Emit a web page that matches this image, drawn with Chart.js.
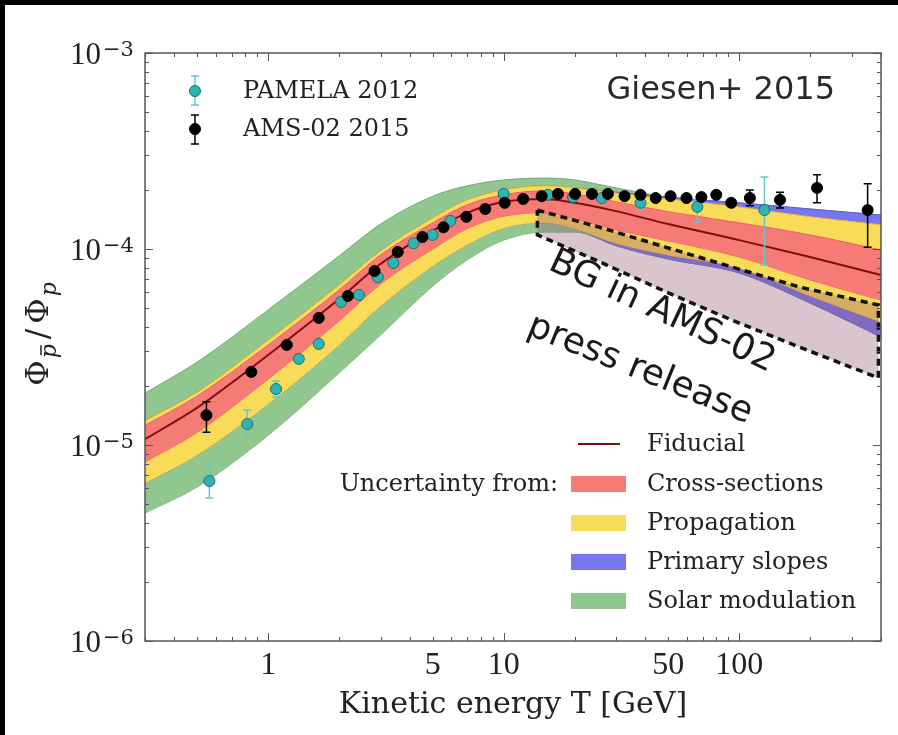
<!DOCTYPE html>
<html lang="en">
<head>
  <meta charset="UTF-8">
  <title>Antiproton / proton ratio</title>
  <script src="https://cdn.jsdelivr.net/npm/chart.js"></script>
  <style>
    html, body { margin: 0; padding: 0; background: #fff; overflow: hidden; }
    #wrap { width: 898px; height: 735px; }
    #ratioChart { display: block; }
  </style>
</head>
<body>
<div id="wrap"><canvas id="ratioChart" width="898" height="735"></canvas></div>

<script>
  // Model bands at these kinetic energies [GeV]
  const modelEnergy = [0.3, 0.5, 1, 2, 3, 5, 7, 10, 15, 20, 30, 50, 100, 200, 400];
  const fiducial = [1.07e-5, 1.55e-5, 2.88e-5, 5.56e-5, 8.38e-5, 1.24e-4, 1.53e-4, 1.74e-4, 1.80e-4, 1.72e-4, 1.56e-4, 1.34e-4, 1.11e-4, 9.10e-5, 7.37e-5];
  const crossUp  = [1.26e-5, 1.78e-5, 3.24e-5, 6.18e-5, 9.32e-5, 1.36e-4, 1.68e-4, 1.89e-4, 1.98e-4, 1.91e-4, 1.74e-4, 1.55e-4, 1.36e-4, 1.18e-4, 9.88e-5];
  const crossLo  = [8.19e-6, 1.16e-5, 2.17e-5, 4.29e-5, 6.63e-5, 1.00e-4, 1.27e-4, 1.47e-4, 1.53e-4, 1.42e-4, 1.25e-4, 1.10e-4, 9.10e-5, 6.95e-5, 5.49e-5];
  const propUp   = [1.33e-5, 1.86e-5, 3.43e-5, 6.55e-5, 9.77e-5, 1.44e-4, 1.78e-4, 2.00e-4, 2.10e-4, 2.05e-4, 1.93e-4, 1.80e-4, 1.64e-4, 1.46e-4, 1.33e-4];
  const propLo   = [6.40e-6, 8.89e-6, 1.62e-5, 3.24e-5, 5.12e-5, 8.19e-5, 1.05e-4, 1.28e-4, 1.36e-4, 1.27e-4, 1.07e-4, 9.32e-5, 8.00e-5, 5.76e-5, 4.24e-5];
  const slopeUp  = [1.33e-5, 1.86e-5, 3.43e-5, 6.55e-5, 9.77e-5, 1.44e-4, 1.78e-4, 2.00e-4, 2.10e-4, 2.05e-4, 1.95e-4, 1.84e-4, 1.72e-4, 1.60e-4, 1.49e-4];
  const slopeLo  = [6.40e-6, 8.89e-6, 1.62e-5, 3.24e-5, 5.12e-5, 8.19e-5, 1.05e-4, 1.28e-4, 1.36e-4, 1.27e-4, 1.04e-4, 8.89e-5, 7.54e-5, 5.30e-5, 3.56e-5];
  const solarUp  = [1.84e-5, 2.65e-5, 4.89e-5, 9.21e-5, 1.34e-4, 1.86e-4, 2.10e-4, 2.25e-4, 2.30e-4, 2.25e-4, 2.05e-4, 1.84e-4, 1.72e-4, 1.60e-4, 1.49e-4];
  const solarLo  = [4.50e-6, 6.11e-6, 1.12e-5, 2.33e-5, 3.64e-5, 6.47e-5, 8.79e-5, 1.11e-4, 1.22e-4, 1.22e-4, 1.04e-4, 8.89e-5, 7.54e-5, 5.30e-5, 3.56e-5];

  // "BG in AMS-02 press release" region, outline as a closed polygon
  const bgEnergy = [13.9, 25.6, 49, 93, 180, 390, 390, 180, 93, 49, 25.6, 13.9, 13.9];
  const bgRatio  = [1.58e-4, 1.29e-4, 1.02e-4, 8.10e-5, 6.40e-5, 5.18e-5, 2.20e-5, 3.16e-5, 4.34e-5, 6.04e-5, 8.59e-5, 1.18e-4, 1.58e-4];

  // AMS-02 2015
  const amsEnergy = [0.547, 0.848, 1.20, 1.64, 2.18, 2.83, 3.55, 4.52, 5.55, 6.94, 8.35, 10.1, 12.1, 14.5, 17.0, 20.1, 23.7, 27.7, 32.6, 38.1, 44.2, 51.1, 59.7, 69.1, 79.9, 92.5, 111, 149, 214, 351];
  const amsRatio  = [1.42e-5, 2.36e-5, 3.24e-5, 4.45e-5, 5.76e-5, 7.72e-5, 9.66e-5, 1.15e-4, 1.29e-4, 1.46e-4, 1.60e-4, 1.72e-4, 1.80e-4, 1.86e-4, 1.91e-4, 1.91e-4, 1.91e-4, 1.91e-4, 1.86e-4, 1.89e-4, 1.82e-4, 1.86e-4, 1.82e-4, 1.84e-4, 1.89e-4, 1.72e-4, 1.82e-4, 1.78e-4, 2.05e-4, 1.58e-4];
  const amsLow    = [1.16e-5, null, null, null, null, null, null, null, null, null, null, null, null, null, null, null, null, null, null, null, null, null, null, null, null, null, 1.66e-4, 1.62e-4, 1.72e-4, 1.02e-4];
  const amsHigh   = [1.66e-5, null, null, null, null, null, null, null, null, null, null, null, null, null, null, null, null, null, null, null, null, null, null, null, null, null, 2.00e-4, 1.95e-4, 2.39e-4, 2.15e-4];

  // PAMELA 2012
  const pamEnergy = [0.563, 0.815, 1.08, 1.35, 1.64, 2.04, 2.43, 2.92, 3.40, 4.14, 4.99, 5.94, 10.0, 15.4, 19.7, 26.1, 38.1, 66.4, 128];
  const pamRatio  = [6.55e-6, 1.28e-5, 1.93e-5, 2.75e-5, 3.28e-5, 5.37e-5, 5.83e-5, 7.19e-5, 8.49e-5, 1.07e-4, 1.18e-4, 1.39e-4, 1.91e-4, 1.89e-4, 1.84e-4, 1.82e-4, 1.72e-4, 1.64e-4, 1.58e-4];
  const pamLow    = [5.37e-6, 1.12e-5, 1.76e-5, null, null, null, null, null, null, null, null, null, null, null, null, null, 1.60e-4, 1.37e-4, 8.28e-5];
  const pamHigh   = [7.72e-6, 1.51e-5, 2.12e-5, null, null, null, null, null, null, null, null, null, null, null, null, null, 1.84e-4, 1.78e-4, 2.33e-4];

  const xTickValues = [1, 5, 10, 50, 100];
  const yDecades = [-6, -5, -4, -3];

  const COLORS = {
    cross: '#f67a76', prop: '#f8dc58', slope: '#7676ee', solar: '#8fc78f',
    fid: '#7d0f0f', pam: '#2fb4b4', pamEdge: '#17706f', pamBar: '#62c7cf', ink: '#222'
  };

  const pts = (xs, ys) => xs.map((x, i) => ({ x: x, y: ys[i] }));

  function band(label, upper, lower, fillColor, edgeColor) {
    const common = { borderColor: edgeColor, borderWidth: 1, pointRadius: 0, cubicInterpolationMode: 'monotone' };
    return [
      Object.assign({ label: label, data: pts(modelEnergy, upper), fill: '+1', backgroundColor: fillColor }, common),
      Object.assign({ label: label + ' lower', data: pts(modelEnergy, lower), fill: false }, common)
    ];
  }

  // error bars drawn just before their points
  const errorBars = {
    id: 'errorBars',
    beforeDatasetDraw(chart, args) {
      const ds = chart.data.datasets[args.index];
      if (!ds.errLo) return;
      const { ctx, scales: { x, y } } = chart;
      ctx.save();
      ctx.strokeStyle = ds.errColor;
      ctx.lineWidth = 1.5;
      ds.data.forEach((p, i) => {
        if (ds.errLo[i] == null) return;
        const px = x.getPixelForValue(p.x);
        const y0 = y.getPixelForValue(ds.errLo[i]);
        const y1 = y.getPixelForValue(ds.errHi[i]);
        ctx.beginPath();
        ctx.moveTo(px, y0); ctx.lineTo(px, y1);
        ctx.moveTo(px - 4, y0); ctx.lineTo(px + 4, y0);
        ctx.moveTo(px - 4, y1); ctx.lineTo(px + 4, y1);
        ctx.stroke();
      });
      ctx.restore();
    }
  };

  function marker(ctx, cx, cy, fill, edge) {
    ctx.beginPath();
    ctx.arc(cx, cy, 5.5, 0, Math.PI * 2);
    ctx.fillStyle = fill; ctx.fill();
    ctx.lineWidth = 1; ctx.strokeStyle = edge; ctx.stroke();
  }

  function errSample(ctx, cx, y0, y1, color) {
    ctx.beginPath();
    ctx.strokeStyle = color; ctx.lineWidth = 1.5;
    ctx.moveTo(cx, y0); ctx.lineTo(cx, y1);
    ctx.moveTo(cx - 4, y0); ctx.lineTo(cx + 4, y0);
    ctx.moveTo(cx - 4, y1); ctx.lineTo(cx + 4, y1);
    ctx.stroke();
  }

  const decorations = {
    id: 'decorations',
    beforeDraw(chart) {
      const { ctx, width, height } = chart;
      ctx.save();
      ctx.fillStyle = '#000';
      ctx.fillRect(0, 0, width, height);
      ctx.fillStyle = '#fff';
      ctx.fillRect(5, 5, width - 5, height - 5);
      ctx.restore();
    },
    afterDraw(chart) {
      const { ctx, chartArea: a, scales: { x, y } } = chart;
      ctx.save();

      // frame
      ctx.strokeStyle = '#555';
      ctx.lineWidth = 1.5;
      ctx.strokeRect(a.left, a.top, a.right - a.left, a.bottom - a.top);

      // inward ticks on all four sides
      ctx.lineWidth = 1;
      for (let d = -1; d <= 2; d++) {
        for (let m = 1; m <= 9; m++) {
          const v = m * Math.pow(10, d);
          if (v < 0.3 || v > 400) continue;
          const px = Math.round(x.getPixelForValue(v)) + 0.5;
          const len = m === 1 ? 8 : 4;
          ctx.beginPath();
          ctx.moveTo(px, a.bottom); ctx.lineTo(px, a.bottom - len);
          ctx.moveTo(px, a.top); ctx.lineTo(px, a.top + len);
          ctx.stroke();
        }
      }
      for (let d = -6; d <= -3; d++) {
        for (let m = 1; m <= 9; m++) {
          if (d === -3 && m > 1) break;
          const py = Math.round(y.getPixelForValue(m * Math.pow(10, d))) + 0.5;
          const len = m === 1 ? 8 : 4;
          ctx.beginPath();
          ctx.moveTo(a.left, py); ctx.lineTo(a.left + len, py);
          ctx.moveTo(a.right, py); ctx.lineTo(a.right - len, py);
          ctx.stroke();
        }
      }

      // y tick labels 10^n
      ctx.fillStyle = COLORS.ink;
      yDecades.forEach(e => {
        const py = y.getPixelForValue(Math.pow(10, e));
        ctx.font = '31px "Liberation Serif"';
        ctx.textAlign = 'right';
        ctx.textBaseline = 'alphabetic';
        ctx.fillText('10', 101, py + 11);
        ctx.font = '21px "DejaVu Serif"';
        ctx.textAlign = 'left';
        ctx.fillText('\u2212' + (-e), 103, py + 3);
      });

      // y axis title: Phi_pbar / Phi_p
      ctx.save();
      ctx.translate(48, 333);
      ctx.rotate(-Math.PI / 2);
      ctx.textAlign = 'left';
      ctx.textBaseline = 'alphabetic';
      const big = '31px "DejaVu Serif"', small = 'italic 22px "DejaVu Serif"';
      const parts = [
        { f: big, t: '\u03A6', dy: 0 },
        { f: small, t: 'p', dy: 8, bar: true },
        { f: big, t: '/', dy: 0, pad: 3 },
        { f: big, t: '\u03A6', dy: 0 },
        { f: small, t: 'p', dy: 8 }
      ];
      let total = 0;
      parts.forEach(p => { ctx.font = p.f; p.w = ctx.measureText(p.t).width + (p.pad || 0) * 2; total += p.w + 2; });
      let cx = -total / 2;
      parts.forEach(p => {
        ctx.font = p.f;
        ctx.fillText(p.t, cx + (p.pad || 0), p.dy);
        if (p.bar) {
          ctx.beginPath();
          ctx.strokeStyle = COLORS.ink; ctx.lineWidth = 1.5;
          ctx.moveTo(cx + 3, p.dy - 15); ctx.lineTo(cx + p.w - 1, p.dy - 15);
          ctx.stroke();
        }
        cx += p.w + 2;
      });
      ctx.restore();

      // data legend, top left
      errSample(ctx, 195, 76, 105, COLORS.pamBar);
      marker(ctx, 195, 91, COLORS.pam, COLORS.pamEdge);
      errSample(ctx, 195, 115, 144, '#000');
      marker(ctx, 195, 129, '#000', '#000');
      ctx.fillStyle = COLORS.ink;
      ctx.font = '24px "DejaVu Serif"';
      ctx.textAlign = 'left';
      ctx.textBaseline = 'middle';
      ctx.fillText('PAMELA 2012', 243, 92);
      ctx.fillText('AMS-02 2015', 243, 130);

      // model legend, lower right
      ctx.beginPath();
      ctx.strokeStyle = COLORS.fid; ctx.lineWidth = 2;
      ctx.moveTo(578, 444); ctx.lineTo(620, 444);
      ctx.stroke();
      const swatches = [
        ['Cross-sections', COLORS.cross, 484],
        ['Propagation', COLORS.prop, 523],
        ['Primary slopes', COLORS.slope, 562],
        ['Solar modulation', COLORS.solar, 601]
      ];
      swatches.forEach(s => {
        ctx.fillStyle = s[1];
        ctx.fillRect(571, s[2] - 8, 55, 16);
      });
      ctx.fillStyle = COLORS.ink;
      ctx.fillText('Fiducial', 647, 445);
      swatches.forEach(s => ctx.fillText(s[0], 647, s[2] + 1));
      ctx.textAlign = 'right';
      ctx.fillText('Uncertainty from:', 558, 485);

      // annotations
      ctx.fillStyle = '#2a2a2a';
      ctx.font = '32px "DejaVu Sans"';
      ctx.textAlign = 'right';
      ctx.fillText('Giesen+ 2015', 835, 91);

      ctx.fillStyle = '#1a1a1a';
      ctx.font = '36px "DejaVu Sans"';
      ctx.textAlign = 'center';
      ctx.save();
      ctx.translate(662, 312);
      ctx.rotate(25 * Math.PI / 180);
      ctx.fillText('BG in AMS-02', 0, 0);
      ctx.restore();
      ctx.save();
      ctx.translate(640, 370);
      ctx.rotate(22 * Math.PI / 180);
      ctx.fillText('press release', 0, 0);
      ctx.restore();

      ctx.restore();
    }
  };

  const datasets = [
    {
      label: 'AMS-02 2015', data: pts(amsEnergy, amsRatio), showLine: false,
      pointRadius: 5.5, pointBackgroundColor: '#000', pointBorderColor: '#000',
      errLo: amsLow, errHi: amsHigh, errColor: '#000'
    },
    {
      label: 'PAMELA 2012', data: pts(pamEnergy, pamRatio), showLine: false,
      pointRadius: 5.5, pointBackgroundColor: COLORS.pam, pointBorderColor: COLORS.pamEdge, pointBorderWidth: 1,
      errLo: pamLow, errHi: pamHigh, errColor: COLORS.pamBar
    },
    {
      label: 'Fiducial', data: pts(modelEnergy, fiducial), borderColor: COLORS.fid, borderWidth: 2,
      pointRadius: 0, fill: false, cubicInterpolationMode: 'monotone'
    },
    {
      label: 'BG in AMS-02 press release', data: pts(bgEnergy, bgRatio), fill: 'shape',
      backgroundColor: 'rgba(149, 89, 115, 0.35)', borderColor: '#111', borderWidth: 3.5,
      borderDash: [7, 5], pointRadius: 0, tension: 0
    },
    ...band('Cross-sections', crossUp, crossLo, COLORS.cross, '#e8625e'),
    ...band('Propagation', propUp, propLo, COLORS.prop, '#e9b93a'),
    ...band('Primary slopes', slopeUp, slopeLo, COLORS.slope, '#5f5fd8'),
    ...band('Solar modulation', solarUp, solarLo, COLORS.solar, '#76a876')
  ];

  new Chart(document.getElementById('ratioChart').getContext('2d'), {
    type: 'line',
    data: { datasets: datasets },
    options: {
      responsive: false,
      animation: false,
      events: [],
      layout: { padding: { left: 145, top: 53, right: 17, bottom: 0 } },
      plugins: {
        legend: { display: false },
        tooltip: { enabled: false }
      },
      scales: {
        x: {
          type: 'logarithmic', min: 0.3, max: 400,
          grid: { display: false, drawTicks: false },
          border: { display: false },
          afterBuildTicks: s => { s.ticks = xTickValues.map(v => ({ value: v })); },
          afterFit: s => { s.height = 94; },
          ticks: {
            autoSkip: false, maxRotation: 0, padding: 5, color: COLORS.ink,
            font: { family: 'Liberation Serif', size: 32 },
            callback: v => String(v)
          },
          title: {
            display: true, text: 'Kinetic energy T [GeV]', color: COLORS.ink,
            font: { family: 'DejaVu Serif', size: 30 },
            padding: { top: 0, bottom: 12 }
          }
        },
        y: { type: 'logarithmic', min: 1e-6, max: 1e-3, display: false }
      }
    },
    plugins: [errorBars, decorations]
  });
</script>
</body>
</html>
